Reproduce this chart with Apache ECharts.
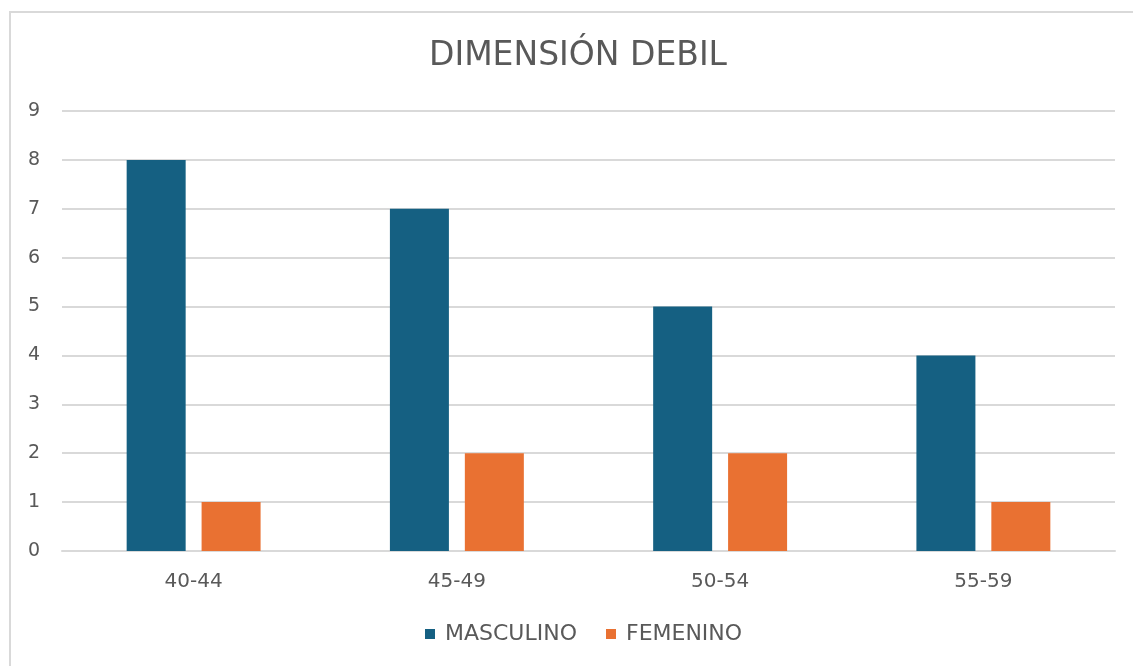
<!DOCTYPE html>
<html>
<head>
<meta charset="utf-8">
<script src="https://cdn.jsdelivr.net/npm/echarts@6/dist/echarts.min.js"></script>
<style>
  html, body { margin: 0; padding: 0; background: #fff; }
  #chart { width: 1133px; height: 666px; }
</style>
</head>
<body>
<div id="chart"></div>
<script>
// Age groups and counts per sex
const categories = ['40-44', '45-49', '50-54', '55-59'];
const masculino = [8, 7, 5, 4];
const femenino = [1, 2, 2, 1];
const yTicks = { min: 0, max: 9, interval: 1 };

const textColor = '#595959';
const frameColor = '#d9d9d9';
const font = '"DejaVu Sans", "Open Sans", sans-serif';

const chart = echarts.init(document.getElementById('chart'));
chart.setOption({
  backgroundColor: '#ffffff',
  animation: false,
  textStyle: { fontFamily: font },
  title: {
    text: 'DIMENSIÓN DEBIL',
    left: 424,
    top: 35,
    textStyle: { fontFamily: font, fontSize: 33, fontWeight: 'normal', color: textColor }
  },
  // chart frame: left and top edges
  graphic: [
    {
      type: 'polyline',
      shape: { points: [[10, 700], [10, 12], [1140, 12]] },
      style: { fill: 'none', stroke: frameColor, lineWidth: 2 },
      silent: true,
      z: -1
    }
  ],
  legend: {
    bottom: 16,
    left: 420,
    itemWidth: 10,
    itemHeight: 10,
    itemGap: 29,
    icon: 'rect',
    textStyle: { fontFamily: font, fontSize: 22, color: textColor, padding: [0, 0, 0, 5] }
  },
  grid: { left: 62, right: 18, top: 111, bottom: 115 },
  xAxis: {
    type: 'category',
    data: categories,
    axisLine: { lineStyle: { color: frameColor, width: 2 } },
    axisTick: { show: false },
    axisLabel: { fontFamily: font, fontSize: 20, color: textColor, margin: 21 }
  },
  yAxis: {
    type: 'value',
    min: yTicks.min,
    max: yTicks.max,
    interval: yTicks.interval,
    axisLine: { show: false },
    axisTick: { show: false },
    axisLabel: { fontFamily: font, fontSize: 19, color: textColor, margin: 22, align: 'right' },
    splitLine: { lineStyle: { color: frameColor, width: 2 } }
  },
  series: [
    {
      name: 'MASCULINO',
      type: 'bar',
      data: masculino,
      barWidth: 59,
      barGap: '27%',
      itemStyle: { color: '#156082' }
    },
    {
      name: 'FEMENINO',
      type: 'bar',
      data: femenino,
      barWidth: 59,
      itemStyle: { color: '#E97132' }
    }
  ]
});
</script>
</body>
</html>
